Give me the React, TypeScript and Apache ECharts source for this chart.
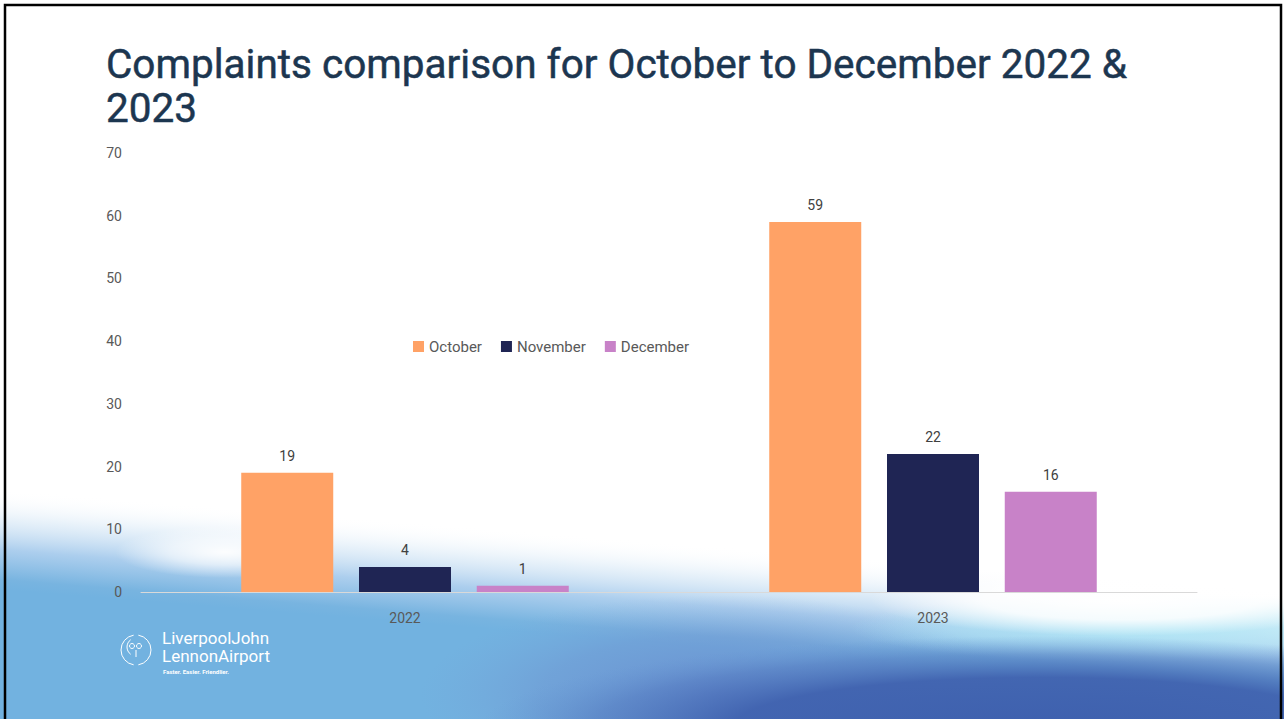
import React, { useEffect, useRef } from "react";
import * as echarts from "echarts";

const categories = ["2022", "2023"];
const seriesNames = ["October", "November", "December"];
const octoberValues = [19, 59];
const novemberValues = [4, 22];
const decemberValues = [1, 16];
const seriesColors = ["#FFA266", "#1F2554", "#C882C8"];
const titleText = "Complaints comparison for October to December 2022 &\n2023";

export default function App() {
  const ref = useRef<HTMLDivElement>(null);
  useEffect(() => {
    document.body.style.margin = "0";
    const chart = echarts.init(ref.current!, null, { renderer: "svg" });
    const values = [octoberValues, novemberValues, decemberValues];
    const radial = (stops: [number, string][]) => ({
      type: "radial",
      x: 0.5,
      y: 0.5,
      r: 0.5,
      colorStops: stops.map(([offset, color]) => ({ offset, color })),
    });
    const option: any = {
      animation: false,
      backgroundColor: "#ffffff",
      title: {
        text: titleText,
        left: 101,
        top: 37,
        textStyle: {
          fontFamily: "Roboto",
          fontSize: 40.5,
          fontWeight: "normal",
          color: "#1C3650",
          lineHeight: 44,
          textBorderColor: "#1C3650",
          textBorderWidth: 0.5,
        },
      },
      legend: {
        left: 408,
        top: 334,
        icon: "rect",
        itemWidth: 11,
        itemHeight: 11,
        itemGap: 19,
        data: seriesNames,
        textStyle: { fontFamily: "Roboto", fontSize: 15, color: "#595959" },
      },
      grid: { left: 141, right: 87, top: 153, bottom: 127 },
      xAxis: {
        type: "category",
        data: categories,
        axisLine: { lineStyle: { color: "#D9D9D9", width: 1 } },
        axisTick: { show: false },
        axisLabel: { fontFamily: "Roboto", fontSize: 14, color: "#595959", margin: 19 },
      },
      yAxis: {
        type: "value",
        min: 0,
        max: 70,
        interval: 10,
        axisLine: { show: false },
        axisTick: { show: false },
        splitLine: { show: false },
        axisLabel: { fontFamily: "Roboto", fontSize: 14, color: "#595959", margin: 19 },
      },
      series: seriesNames.map((name, i) => ({
        name,
        type: "bar",
        data: values[i],
        barWidth: 92,
        barGap: "28%",
        itemStyle: { color: seriesColors[i] },
        label: {
          show: true,
          position: "top",
          distance: 10,
          fontFamily: "Roboto",
          fontSize: 14,
          color: "#404040",
        },
      })),
      graphic: [
        {
          type: "rect",
          z: -10,
          silent: true,
          shape: { x: 0, y: 440, width: 1284, height: 279 },
          style: {
            fill: {
              type: "linear",
              global: true,
              x: 700,
              y: 545,
              x2: 692,
              y2: 645,
              colorStops: [
                { offset: 0, color: "rgba(255,255,255,0)" },
                { offset: 0.3, color: "rgba(215,232,246,0.6)" },
                { offset: 0.6, color: "rgba(165,202,236,0.92)" },
                { offset: 0.9, color: "#78B4E0" },
                { offset: 1, color: "#72B2E0" },
              ],
            },
          },
        },
        {
          type: "ellipse",
          z: -9,
          silent: true,
          shape: { cx: 225, cy: 552, rx: 110, ry: 26 },
          style: { fill: radial([[0, "rgba(255,255,255,0.95)"], [0.5, "rgba(255,255,255,0.6)"], [1, "rgba(255,255,255,0)"]]) },
        },
        {
          type: "ellipse",
          z: -9,
          silent: true,
          shape: { cx: 720, cy: 695, rx: 300, ry: 100 },
          style: { fill: radial([[0, "rgba(100,125,200,0.7)"], [0.6, "rgba(110,140,205,0.4)"], [1, "rgba(120,160,215,0)"]]) },
        },
        {
          type: "ellipse",
          z: -8,
          silent: true,
          shape: { cx: 1150, cy: 628, rx: 300, ry: 34 },
          style: { fill: radial([[0, "rgba(175,232,246,0.85)"], [0.6, "rgba(175,232,246,0.5)"], [1, "rgba(175,232,246,0)"]]) },
        },
        {
          type: "ellipse",
          z: -8,
          silent: true,
          shape: { cx: 1120, cy: 600, rx: 250, ry: 36 },
          style: { fill: radial([[0, "rgba(255,255,255,1)"], [0.55, "rgba(255,255,255,0.85)"], [1, "rgba(255,255,255,0)"]]) },
        },
        {
          type: "ellipse",
          z: -7,
          silent: true,
          shape: { cx: 1040, cy: 728, rx: 560, ry: 92 },
          style: { fill: radial([[0, "rgba(62,96,174,1)"], [0.55, "rgba(64,98,175,0.95)"], [0.8, "rgba(80,120,190,0.5)"], [1, "rgba(100,150,210,0)"]]) },
        },
        {
          type: "group",
          z: 10,
          silent: true,
          children: [
            { type: "arc", shape: { cx: 136, cy: 650, r: 15, startAngle: Math.PI * 0.55, endAngle: Math.PI * 1.45 }, style: { stroke: "#ffffff", lineWidth: 1, fill: "none" } },
            { type: "arc", shape: { cx: 136, cy: 650, r: 15, startAngle: -Math.PI * 0.45, endAngle: Math.PI * 0.45 }, style: { stroke: "#ffffff", lineWidth: 1, fill: "none" } },
            { type: "arc", shape: { cx: 136, cy: 647, r: 9, startAngle: Math.PI * 0.7, endAngle: Math.PI * 1.3 }, style: { stroke: "#ffffff", lineWidth: 1, fill: "none" } },
            { type: "circle", shape: { cx: 132, cy: 646, r: 2.5 }, style: { stroke: "#ffffff", lineWidth: 1, fill: "none" } },
            { type: "circle", shape: { cx: 139, cy: 646, r: 2.5 }, style: { stroke: "#ffffff", lineWidth: 1, fill: "none" } },
            { type: "line", shape: { x1: 136, y1: 650, x2: 136, y2: 657 }, style: { stroke: "#ffffff", lineWidth: 1 } },
            {
              type: "text",
              style: { text: "LiverpoolJohn", x: 162, y: 629, fill: "#ffffff", font: "17px Roboto" },
            },
            {
              type: "text",
              style: { text: "LennonAirport", x: 162, y: 647, fill: "#ffffff", font: "17px Roboto" },
            },
            {
              type: "text",
              style: { text: "Faster. Easier. Friendlier.", x: 163, y: 668, fill: "#ffffff", font: "bold 6px Roboto" },
            },
          ],
        },
        {
          type: "rect",
          z: 20,
          silent: true,
          shape: { x: 5, y: 5, width: 1276, height: 720 },
          style: { fill: "none", stroke: "#000000", lineWidth: 2.5 },
        },
      ],
    };
    chart.setOption(option);
    return () => chart.dispose();
  }, []);
  return <div ref={ref} style={{ position: "fixed", left: 0, top: 0, width: 1284, height: 719 }} />;
}
